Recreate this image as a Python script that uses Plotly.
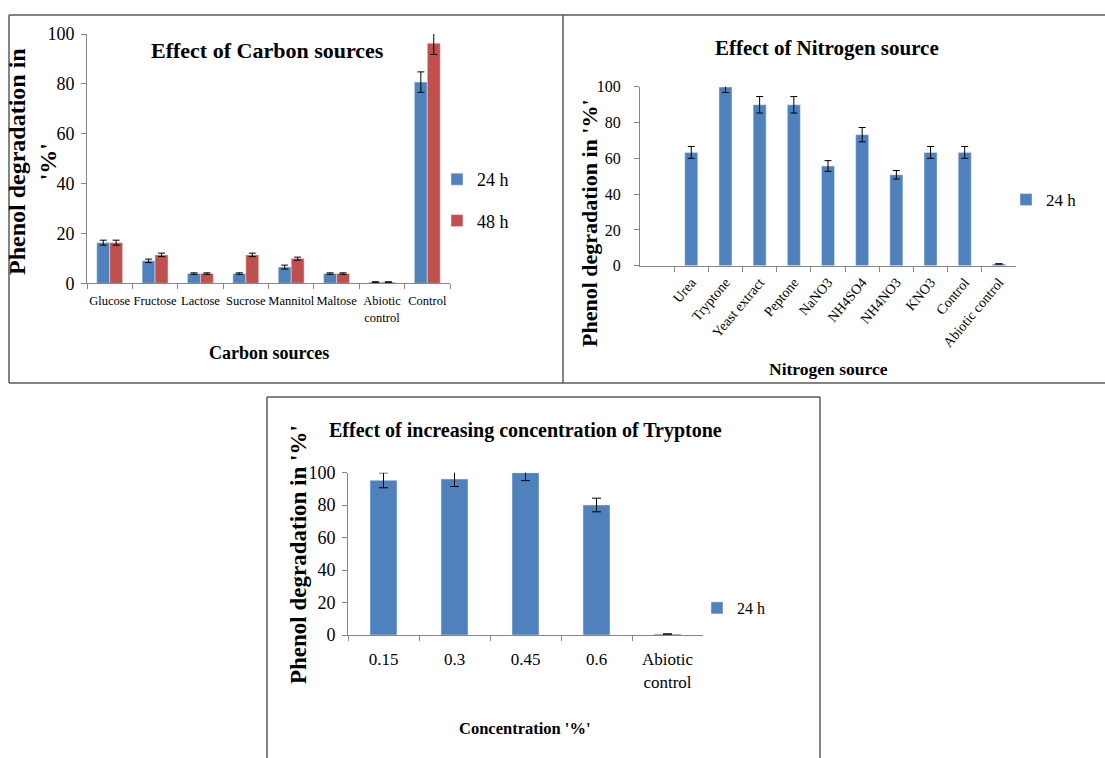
import plotly.graph_objects as go

# ---- data -------------------------------------------------------------
carbon_sources = ["Glucose", "Fructose", "Lactose", "Sucrose", "Mannitol",
                  "Maltose", "Abiotic<br>control", "Control"]
carbon_24h = [16.3, 9.0, 3.9, 3.9, 6.5, 3.9, 0.5, 80.7]
carbon_24h_err = [1.0, 0.7, 0.3, 0.3, 0.8, 0.3, 0.1, 4.1]
carbon_48h = [16.3, 11.4, 3.9, 11.4, 9.9, 3.9, 0.5, 96.3]
carbon_48h_err = [1.0, 0.7, 0.3, 0.7, 0.6, 0.3, 0.1, 4.5]

nitrogen_sources = ["Urea", "Tryptone", "Yeast extract", "Peptone", "NaNO3",
                    "NH4SO4", "NH4NO3", "KNO3", "Control", "Abiotic control"]
nitrogen_24h = [63.3, 99.8, 89.9, 89.9, 55.7, 73.2, 50.8, 63.3, 63.3, 1.0]
nitrogen_24h_err = [3.3, 3.0, 4.6, 4.6, 3.0, 4.0, 2.4, 3.3, 3.3, 0.0]

tryptone_conc = ["0.15", "0.3", "0.45", "0.6", "Abiotic<br>control"]
tryptone_24h = [95.3, 96.1, 100.0, 80.1, 0.6]
tryptone_24h_err = [4.6, 4.6, 4.9, 4.2, 0.0]

y_ticks = [0, 20, 40, 60, 80, 100]

# ---- styling ----------------------------------------------------------
W, H = 1105, 758
BLUE = "#4F81BD"
RED = "#C0504D"
AXIS = "#868686"
FRAME = "#5a5a5a"
FONT = "Liberation Serif"


def px_x(x):
    return x / W


def px_y(y):
    return 1 - y / H


fig = go.Figure()

# panel 1: carbon sources (two series)
fig.add_trace(go.Bar(
    x=carbon_sources, y=carbon_24h, name="24 h", marker_color=BLUE,
    error_y=dict(type="data", array=carbon_24h_err, color="black",
                 thickness=1, width=3.5),
    xaxis="x", yaxis="y", legend="legend", legendgroup="a"))
fig.add_trace(go.Bar(
    x=carbon_sources, y=carbon_48h, name="48 h", marker_color=RED,
    error_y=dict(type="data", array=carbon_48h_err, color="black",
                 thickness=1, width=3.5),
    xaxis="x", yaxis="y", legend="legend", legendgroup="b"))

# panel 2: nitrogen sources
fig.add_trace(go.Bar(
    x=nitrogen_sources, y=nitrogen_24h, name="24 h", marker_color=BLUE,
    width=0.38,
    error_y=dict(type="data", array=nitrogen_24h_err, color="black",
                 thickness=1, width=3.5),
    xaxis="x2", yaxis="y2", legend="legend2"))

# panel 3: tryptone concentration
fig.add_trace(go.Bar(
    x=tryptone_conc, y=tryptone_24h, name="24 h", marker_color=BLUE,
    width=0.38,
    error_y=dict(type="data", array=tryptone_24h_err, color="black",
                 thickness=1, width=4.5),
    xaxis="x3", yaxis="y3", legend="legend3"))


def xaxis(domain, size, standoff, **kw):
    d = dict(domain=domain, type="category", showline=True, linecolor=AXIS,
             linewidth=1, ticks="outside", tickson="boundaries", ticklen=5,
             tickcolor=AXIS, showgrid=False, zeroline=False, automargin=False,
             ticklabelstandoff=standoff,
             tickfont=dict(family=FONT, size=size, color="black"))
    d.update(kw)
    return d


def yaxis(domain, size, standoff, **kw):
    d = dict(domain=domain, range=[0, 100], tickvals=y_ticks,
             showline=True, linecolor=AXIS, linewidth=1, ticks="outside",
             ticklen=5, tickcolor=AXIS, showgrid=False, zeroline=False,
             automargin=False, ticklabelstandoff=standoff,
             tickfont=dict(family=FONT, size=size, color="black"))
    d.update(kw)
    return d


legend_style = dict(xanchor="left", yanchor="middle",
                    bgcolor="rgba(0,0,0,0)", itemwidth=30)

fig.update_layout(
    width=W, height=H, autosize=False,
    margin=dict(l=0, r=0, t=0, b=0, pad=0, autoexpand=False),
    paper_bgcolor="white", plot_bgcolor="white",
    barmode="group", bargap=0.43, bargroupgap=0,
    font=dict(family=FONT, color="black"),
    xaxis=xaxis([px_x(87), px_x(450)], 12.5, 6, anchor="y", tickangle=0),
    yaxis=yaxis([px_y(283.3), px_y(34)], 18, 3, anchor="x"),
    xaxis2=xaxis([px_x(640), px_x(1016)], 14, 2, anchor="y2", tickangle=-50,
                 range=[-1.5, 9.5]),
    yaxis2=yaxis([px_y(265.7), px_y(86.7)], 16, 10, anchor="x2"),
    xaxis3=xaxis([px_x(348), px_x(703)], 17, 9, anchor="y3", tickangle=0),
    yaxis3=yaxis([px_y(635), px_y(472.7)], 18, 3, anchor="x3"),
    legend=dict(x=px_x(437), y=px_y(200),
                font=dict(family=FONT, size=18, color="black"),
                tracegroupgap=15, **legend_style),
    legend2=dict(x=px_x(1006), y=px_y(200),
                 font=dict(family=FONT, size=17, color="black"),
                 **legend_style),
    legend3=dict(x=px_x(697), y=px_y(608),
                 font=dict(family=FONT, size=16, color="black"),
                 **legend_style),
    showlegend=True,
)

# frames around the three panels
frame = dict(type="line", xref="paper", yref="paper",
             line=dict(color=FRAME, width=1.5))
for x0, y0, x1, y1 in [(9, 15, 1105, 15), (9, 15, 9, 383), (563, 15, 563, 383),
                       (9, 383, 1105, 383),
                       (267, 397, 820, 397), (267, 397, 267, 758),
                       (820, 397, 820, 758)]:
    fig.add_shape(x0=px_x(x0), y0=px_y(y0), x1=px_x(x1), y1=px_y(y1), **frame)


def label(text, x, y, size, angle=0, bold=True):
    fig.add_annotation(
        text=f"<b>{text}</b>" if bold else text, x=px_x(x), y=px_y(y),
        xref="paper", yref="paper", showarrow=False, textangle=angle,
        xanchor="center", yanchor="middle",
        font=dict(family=FONT, size=size, color="black"))


# titles
label("Effect of Carbon sources", 267, 50, 22)
label("Effect of Nitrogen source", 827, 48, 21)
label("Effect of increasing concentration of Tryptone", 525, 430, 20)

# axis titles
label("Phenol degradation in<br>'%'", 32, 162, 24, angle=-90)
label("Carbon sources", 269, 353, 18)
label("Phenol degradation in '%'", 589, 223, 22, angle=-90)
label("Nitrogen source", 828, 369, 17.5)
label("Phenol degradation in '%'", 298, 555, 23, angle=-90)
label("Concentration '%'", 525, 728, 16.5)

fig.write_html("out.html")
